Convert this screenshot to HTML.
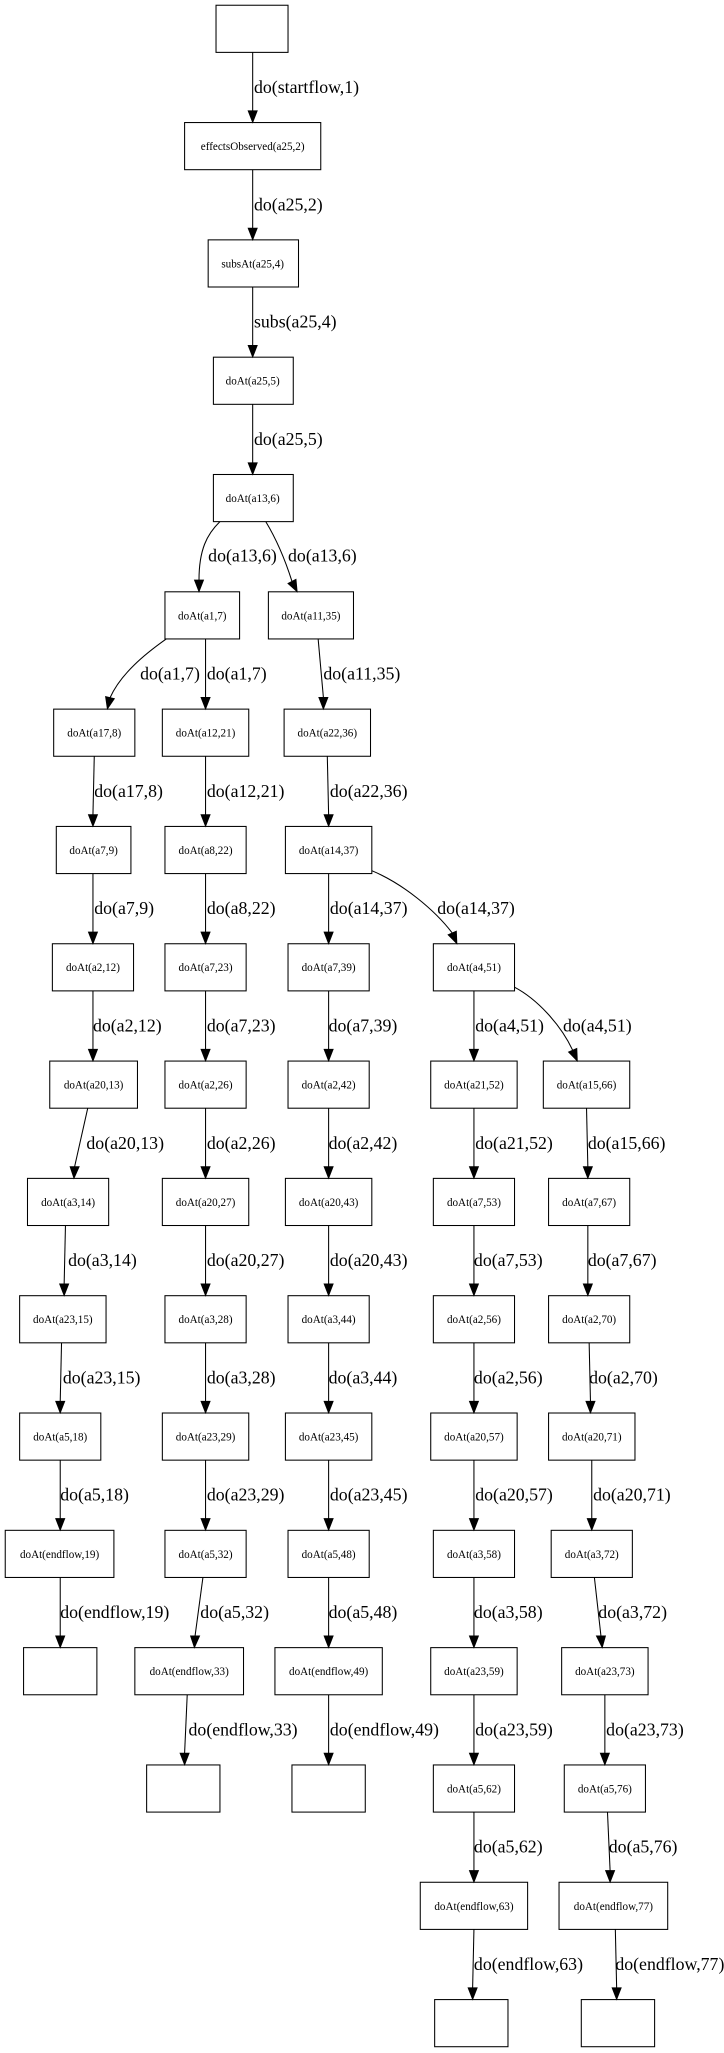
<!DOCTYPE html>
<html><head><meta charset="utf-8"><style>
html,body{margin:0;padding:0;background:#fff;}
svg{display:block;}
.n rect{fill:#fff;stroke:#000;stroke-width:0.8;}
.n text{font-family:"Liberation Serif",serif;font-size:8.5px;text-anchor:middle;}
.e{fill:none;stroke:#000;stroke-width:0.8;}
.l{font-family:"Liberation Serif",serif;font-size:13.6px;}
polygon{fill:#000;stroke:#000;stroke-width:0.6;}
</style></head><body>
<svg width="724" height="2053" viewBox="0 0 553 1568" preserveAspectRatio="none" xmlns="http://www.w3.org/2000/svg">
<g class="n">
<rect x="165" y="4" width="55" height="36"/>
<rect x="141" y="93.6" width="104" height="36"/><text x="193" y="114.6">effectsObserved(a25,2)</text>
<rect x="159" y="183.2" width="69" height="36"/><text x="193" y="204.2">subsAt(a25,4)</text>
<rect x="163" y="272.8" width="61" height="36"/><text x="193" y="293.8">doAt(a25,5)</text>
<rect x="163" y="362.4" width="61" height="36"/><text x="193" y="383.4">doAt(a13,6)</text>
<rect x="126" y="452" width="57" height="36"/><text x="154.5" y="473">doAt(a1,7)</text>
<rect x="205" y="452" width="65" height="36"/><text x="237.5" y="473">doAt(a11,35)</text>

<rect x="41" y="541.6" width="62" height="36"/><text x="72" y="562.6">doAt(a17,8)</text>
<rect x="43" y="631.2" width="57" height="36"/><text x="71.5" y="652.2">doAt(a7,9)</text>
<rect x="40" y="720.8" width="62" height="36"/><text x="71" y="741.8">doAt(a2,12)</text>
<rect x="38" y="810.4" width="67" height="36"/><text x="71.5" y="831.4">doAt(a20,13)</text>
<rect x="21" y="900" width="62" height="36"/><text x="52" y="921">doAt(a3,14)</text>
<rect x="15" y="989.6" width="66" height="36"/><text x="48" y="1010.6">doAt(a23,15)</text>
<rect x="15" y="1079.2" width="62" height="36"/><text x="46" y="1100.2">doAt(a5,18)</text>
<rect x="4" y="1168.8" width="83" height="36"/><text x="45.5" y="1189.8">doAt(endflow,19)</text>
<rect x="18" y="1258.4" width="56" height="36"/>

<rect x="124" y="541.6" width="66" height="36"/><text x="157" y="562.6">doAt(a12,21)</text>
<rect x="126" y="631.2" width="62" height="36"/><text x="157" y="652.2">doAt(a8,22)</text>
<rect x="126" y="720.8" width="62" height="36"/><text x="157" y="741.8">doAt(a7,23)</text>
<rect x="126" y="810.4" width="62" height="36"/><text x="157" y="831.4">doAt(a2,26)</text>
<rect x="124" y="900" width="66" height="36"/><text x="157" y="921">doAt(a20,27)</text>
<rect x="126" y="989.6" width="62" height="36"/><text x="157" y="1010.6">doAt(a3,28)</text>
<rect x="124" y="1079.2" width="66" height="36"/><text x="157" y="1100.2">doAt(a23,29)</text>
<rect x="126" y="1168.8" width="62" height="36"/><text x="157" y="1189.8">doAt(a5,32)</text>
<rect x="103" y="1258.4" width="83" height="36"/><text x="144.5" y="1279.4">doAt(endflow,33)</text>
<rect x="112" y="1348" width="56" height="36"/>

<rect x="217" y="541.6" width="66" height="36"/><text x="250" y="562.6">doAt(a22,36)</text>
<rect x="218" y="631.2" width="66" height="36"/><text x="251" y="652.2">doAt(a14,37)</text>
<rect x="220" y="720.8" width="62" height="36"/><text x="251" y="741.8">doAt(a7,39)</text>
<rect x="220" y="810.4" width="62" height="36"/><text x="251" y="831.4">doAt(a2,42)</text>
<rect x="218" y="900" width="66" height="36"/><text x="251" y="921">doAt(a20,43)</text>
<rect x="220" y="989.6" width="62" height="36"/><text x="251" y="1010.6">doAt(a3,44)</text>
<rect x="218" y="1079.2" width="66" height="36"/><text x="251" y="1100.2">doAt(a23,45)</text>
<rect x="220" y="1168.8" width="62" height="36"/><text x="251" y="1189.8">doAt(a5,48)</text>
<rect x="210" y="1258.4" width="82" height="36"/><text x="251" y="1279.4">doAt(endflow,49)</text>
<rect x="223" y="1348" width="56" height="36"/>

<rect x="331" y="720.8" width="62" height="36"/><text x="362" y="741.8">doAt(a4,51)</text>
<rect x="329" y="810.4" width="66" height="36"/><text x="362" y="831.4">doAt(a21,52)</text>
<rect x="331" y="900" width="62" height="36"/><text x="362" y="921">doAt(a7,53)</text>
<rect x="331" y="989.6" width="62" height="36"/><text x="362" y="1010.6">doAt(a2,56)</text>
<rect x="329" y="1079.2" width="66" height="36"/><text x="362" y="1100.2">doAt(a20,57)</text>
<rect x="331" y="1168.8" width="62" height="36"/><text x="362" y="1189.8">doAt(a3,58)</text>
<rect x="329" y="1258.4" width="66" height="36"/><text x="362" y="1279.4">doAt(a23,59)</text>
<rect x="331" y="1348" width="62" height="36"/><text x="362" y="1369">doAt(a5,62)</text>
<rect x="321" y="1437.6" width="82" height="36"/><text x="362" y="1458.6">doAt(endflow,63)</text>
<rect x="332" y="1527.2" width="56" height="36"/>

<rect x="415" y="810.4" width="66" height="36"/><text x="448" y="831.4">doAt(a15,66)</text>
<rect x="419" y="900" width="62" height="36"/><text x="450" y="921">doAt(a7,67)</text>
<rect x="419" y="989.6" width="62" height="36"/><text x="450" y="1010.6">doAt(a2,70)</text>
<rect x="419" y="1079.2" width="66" height="36"/><text x="452" y="1100.2">doAt(a20,71)</text>
<rect x="421" y="1168.8" width="62" height="36"/><text x="452" y="1189.8">doAt(a3,72)</text>
<rect x="429" y="1258.4" width="66" height="36"/><text x="462" y="1279.4">doAt(a23,73)</text>
<rect x="431" y="1348" width="62" height="36"/><text x="462" y="1369">doAt(a5,76)</text>
<rect x="427" y="1437.6" width="83" height="36"/><text x="468.5" y="1458.6">doAt(endflow,77)</text>
<rect x="444" y="1527.2" width="56" height="36"/>
</g>

<g>
<path class="e" d="M193,40 L193,84.6"/><polygon points="189.5,84.6 196.5,84.6 193,93.6"/><text class="l" x="194" y="71">do(startflow,1)</text>
<path class="e" d="M193,129.6 L193,174.2"/><polygon points="189.5,174.2 196.5,174.2 193,183.2"/><text class="l" x="194" y="160.6">do(a25,2)</text>
<path class="e" d="M193,219.2 L193,263.8"/><polygon points="189.5,263.8 196.5,263.8 193,272.8"/><text class="l" x="194" y="250.2">subs(a25,4)</text>
<path class="e" d="M193,308.8 L193,353.4"/><polygon points="189.5,353.4 196.5,353.4 193,362.4"/><text class="l" x="194" y="339.8">do(a25,5)</text>

<path class="e" d="M168,398.4 C158,408 152,420 152,443"/><polygon points="148.5,443 155.5,443 152,452"/><text class="l" x="159" y="429">do(a13,6)</text>
<path class="e" d="M203,398.4 C210,410 217,425 223,444"/><polygon points="226.1,442.4 219.9,445.6 227,452"/><text class="l" x="220" y="429">do(a13,6)</text>

<path class="e" d="M127,488 C110,500 92,515 84,533"/><polygon points="87.4,533.6 80.6,532 82,541.6"/><text class="l" x="107" y="519">do(a1,7)</text>
<path class="e" d="M157,488 L157,532.6"/><polygon points="153.5,532.6 160.5,532.6 157,541.6"/><text class="l" x="158" y="519">do(a1,7)</text>
<path class="e" d="M243,488 L247,532.6"/><polygon points="243.5,532.6 250.5,532.6 247,541.6"/><text class="l" x="247" y="519">do(a11,35)</text>

<path class="e" d="M250,577.6 L251,622.2"/><polygon points="247.5,622.2 254.5,622.2 251,631.2"/><text class="l" x="252" y="608.6">do(a22,36)</text>
<path class="e" d="M251,667.2 L251,711.8"/><polygon points="247.5,711.8 254.5,711.8 251,720.8"/><text class="l" x="252" y="698.2">do(a14,37)</text>
<path class="e" d="M284,665 C308,675 332,695 345.4,712.5"/><polygon points="348.6,711.1 342.2,713.9 349,720.8"/><text class="l" x="334" y="698.2">do(a14,37)</text>

<path class="e" d="M362,756.8 L362,801.4"/><polygon points="358.5,801.4 365.5,801.4 362,810.4"/><text class="l" x="363" y="787.8">do(a4,51)</text>
<path class="e" d="M393,754 C410,763 428,782 437.4,802.1"/><polygon points="440.6,800.7 434.2,803.5 441,810.4"/><text class="l" x="430" y="787.8">do(a4,51)</text>

<path class="e" d="M72,577.6 L71,622.2"/><polygon points="67.5,622.2 74.5,622.2 71,631.2"/><text class="l" x="72" y="608.6">do(a17,8)</text>
<path class="e" d="M71,667.2 L71,711.8"/><polygon points="67.5,711.8 74.5,711.8 71,720.8"/><text class="l" x="72" y="698.2">do(a7,9)</text>
<path class="e" d="M71,756.8 L71,801.4"/><polygon points="67.5,801.4 74.5,801.4 71,810.4"/><text class="l" x="71" y="787.8">do(a2,12)</text>
<path class="e" d="M67,846.4 L57,891"/><polygon points="53.5,891 60.5,891 56.5,900"/><text class="l" x="66" y="877.4">do(a20,13)</text>
<path class="e" d="M50,936 L49,980.6"/><polygon points="45.5,980.6 52.5,980.6 49,989.6"/><text class="l" x="52" y="967">do(a3,14)</text>
<path class="e" d="M47,1025.6 L46,1070.2"/><polygon points="42.5,1070.2 49.5,1070.2 46,1079.2"/><text class="l" x="48" y="1056.6">do(a23,15)</text>
<path class="e" d="M46,1115.2 L46,1159.8"/><polygon points="42.5,1159.8 49.5,1159.8 46,1168.8"/><text class="l" x="46" y="1146.2">do(a5,18)</text>
<path class="e" d="M46,1204.8 L46,1249.4"/><polygon points="42.5,1249.4 49.5,1249.4 46,1258.4"/><text class="l" x="46" y="1235.8">do(endflow,19)</text>

<path class="e" d="M157,577.6 L157,622.2"/><polygon points="153.5,622.2 160.5,622.2 157,631.2"/><text class="l" x="158" y="608.6">do(a12,21)</text>
<path class="e" d="M157,667.2 L157,711.8"/><polygon points="153.5,711.8 160.5,711.8 157,720.8"/><text class="l" x="158" y="698.2">do(a8,22)</text>
<path class="e" d="M157,756.8 L157,801.4"/><polygon points="153.5,801.4 160.5,801.4 157,810.4"/><text class="l" x="158" y="787.8">do(a7,23)</text>
<path class="e" d="M157,846.4 L157,891"/><polygon points="153.5,891 160.5,891 157,900"/><text class="l" x="158" y="877.4">do(a2,26)</text>
<path class="e" d="M157,936 L157,980.6"/><polygon points="153.5,980.6 160.5,980.6 157,989.6"/><text class="l" x="158" y="967">do(a20,27)</text>
<path class="e" d="M157,1025.6 L157,1070.2"/><polygon points="153.5,1070.2 160.5,1070.2 157,1079.2"/><text class="l" x="158" y="1056.6">do(a3,28)</text>
<path class="e" d="M157,1115.2 L157,1159.8"/><polygon points="153.5,1159.8 160.5,1159.8 157,1168.8"/><text class="l" x="158" y="1146.2">do(a23,29)</text>
<path class="e" d="M155,1204.8 L149,1249.4"/><polygon points="145.5,1249.4 152.5,1249.4 148.5,1258.4"/><text class="l" x="153" y="1235.8">do(a5,32)</text>
<path class="e" d="M143,1294.4 L141,1339"/><polygon points="137.5,1339 144.5,1339 141,1348"/><text class="l" x="144" y="1325.4">do(endflow,33)</text>

<path class="e" d="M251,756.8 L251,801.4"/><polygon points="247.5,801.4 254.5,801.4 251,810.4"/><text class="l" x="251" y="787.8">do(a7,39)</text>
<path class="e" d="M251,846.4 L251,891"/><polygon points="247.5,891 254.5,891 251,900"/><text class="l" x="251" y="877.4">do(a2,42)</text>
<path class="e" d="M251,936 L251,980.6"/><polygon points="247.5,980.6 254.5,980.6 251,989.6"/><text class="l" x="252" y="967">do(a20,43)</text>
<path class="e" d="M251,1025.6 L251,1070.2"/><polygon points="247.5,1070.2 254.5,1070.2 251,1079.2"/><text class="l" x="251" y="1056.6">do(a3,44)</text>
<path class="e" d="M251,1115.2 L251,1159.8"/><polygon points="247.5,1159.8 254.5,1159.8 251,1168.8"/><text class="l" x="252" y="1146.2">do(a23,45)</text>
<path class="e" d="M251,1204.8 L251,1249.4"/><polygon points="247.5,1249.4 254.5,1249.4 251,1258.4"/><text class="l" x="251" y="1235.8">do(a5,48)</text>
<path class="e" d="M251,1294.4 L251,1339"/><polygon points="247.5,1339 254.5,1339 251,1348"/><text class="l" x="252" y="1325.4">do(endflow,49)</text>

<path class="e" d="M362,846.4 L362,891"/><polygon points="358.5,891 365.5,891 362,900"/><text class="l" x="363" y="877.4">do(a21,52)</text>
<path class="e" d="M362,936 L362,980.6"/><polygon points="358.5,980.6 365.5,980.6 362,989.6"/><text class="l" x="362" y="967">do(a7,53)</text>
<path class="e" d="M362,1025.6 L362,1070.2"/><polygon points="358.5,1070.2 365.5,1070.2 362,1079.2"/><text class="l" x="362" y="1056.6">do(a2,56)</text>
<path class="e" d="M362,1115.2 L362,1159.8"/><polygon points="358.5,1159.8 365.5,1159.8 362,1168.8"/><text class="l" x="363" y="1146.2">do(a20,57)</text>
<path class="e" d="M362,1204.8 L362,1249.4"/><polygon points="358.5,1249.4 365.5,1249.4 362,1258.4"/><text class="l" x="362" y="1235.8">do(a3,58)</text>
<path class="e" d="M362,1294.4 L362,1339"/><polygon points="358.5,1339 365.5,1339 362,1348"/><text class="l" x="363" y="1325.4">do(a23,59)</text>
<path class="e" d="M362,1384 L362,1428.6"/><polygon points="358.5,1428.6 365.5,1428.6 362,1437.6"/><text class="l" x="362" y="1415">do(a5,62)</text>
<path class="e" d="M362,1473.6 L361,1518.2"/><polygon points="357.5,1518.2 364.5,1518.2 361,1527.2"/><text class="l" x="362" y="1504.6">do(endflow,63)</text>

<path class="e" d="M448,846.4 L449,891"/><polygon points="445.5,891 452.5,891 449,900"/><text class="l" x="449" y="877.4">do(a15,66)</text>
<path class="e" d="M449,936 L449,980.6"/><polygon points="445.5,980.6 452.5,980.6 449,989.6"/><text class="l" x="449" y="967">do(a7,67)</text>
<path class="e" d="M450,1025.6 L451,1070.2"/><polygon points="447.5,1070.2 454.5,1070.2 451,1079.2"/><text class="l" x="450" y="1056.6">do(a2,70)</text>
<path class="e" d="M452,1115.2 L452,1159.8"/><polygon points="448.5,1159.8 455.5,1159.8 452,1168.8"/><text class="l" x="453" y="1146.2">do(a20,71)</text>
<path class="e" d="M454,1204.8 L459,1249.4"/><polygon points="455.5,1249.4 462.5,1249.4 460,1258.4"/><text class="l" x="457" y="1235.8">do(a3,72)</text>
<path class="e" d="M462,1294.4 L462,1339"/><polygon points="458.5,1339 465.5,1339 462,1348"/><text class="l" x="463" y="1325.4">do(a23,73)</text>
<path class="e" d="M464,1384 L466,1428.6"/><polygon points="462.5,1428.6 469.5,1428.6 466,1437.6"/><text class="l" x="465" y="1415">do(a5,76)</text>
<path class="e" d="M470,1473.6 L471,1518.2"/><polygon points="467.5,1518.2 474.5,1518.2 471,1527.2"/><text class="l" x="470" y="1504.6">do(endflow,77)</text>
</g>
</svg>
</body></html>
